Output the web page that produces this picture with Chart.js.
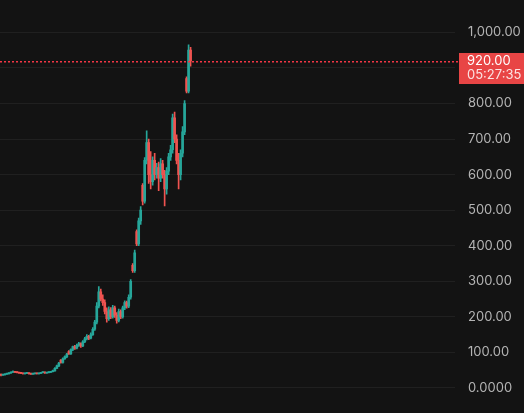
<!DOCTYPE html>
<html>
<head>
<meta charset="utf-8">
<script src="https://cdn.jsdelivr.net/npm/chart.js@4.4.1/dist/chart.umd.min.js"></script>
<style>
  html, body { margin: 0; padding: 0; background: #131313; }
  #wrap { width: 524px; height: 413px; position: relative; }
</style>
</head>
<body>
<div id="wrap"><canvas id="chart"></canvas></div>
<script>
// OHLC candles (oldest first)
const opens = [38,36,37,39,40,42,44,46,44,43,42,41,40,41,42,40,39,40,41,40,41,43,44,42,43,44,46,48,55,62,
  78,72,82,88,102,96,108,116,112,120,125,118,130,138,145,140,150,165,185,230,270,250,240,215,195,220,200,225,205,190,
  215,200,225,240,230,255,345,330,440,405,470,570,525,640,690,600,580,640,600,620,590,630,600,560,610,650,670,760,700,640,
  600,660,720,870,835,950];
const highs = [39,38,40,41,43,45,48,47,45,44,43,42,42,43,43,41,41,42,42,42,44,45,45,44,45,47,50,57,64,72,
  80,85,90,97,105,110,118,120,123,128,127,133,142,150,148,155,170,190,240,285,278,262,248,225,228,226,232,230,212,222,
  220,230,245,244,262,305,350,388,445,478,510,575,648,723,700,665,650,660,632,635,645,640,612,620,660,682,770,776,712,660,
  670,735,808,875,965,958];
const lows = [34,35,36,38,39,41,43,43,42,41,40,39,39,40,39,38,38,39,39,39,40,42,41,41,42,43,45,47,54,60,
  70,70,80,85,94,94,105,108,110,117,114,116,127,135,136,138,148,162,180,225,245,232,208,185,190,195,196,198,182,186,
  195,196,220,224,226,250,325,325,400,400,460,515,520,630,575,560,570,585,590,555,580,590,512,545,600,640,660,690,630,560,
  585,650,712,830,830,905];
const closes = [36,37,39,40,42,44,46,44,43,42,41,40,41,42,40,39,40,41,40,41,43,44,42,43,44,46,48,55,62,70,
  72,82,88,95,96,108,116,112,120,125,118,130,138,145,140,150,165,185,230,270,250,240,215,195,220,200,225,205,190,215,
  200,225,240,230,255,300,330,380,405,470,500,525,640,690,600,580,640,600,620,590,630,600,560,610,650,670,760,700,640,600,
  660,720,800,835,950,920];

const SLOTS = 228;            // candle slots across the plot, most still empty
const yTicks = [0, 100, 200, 300, 400, 500, 600, 700, 800, 900, 1000];
const lastPrice = 920;
const countdown = '05:27:35';

const UP = '#26a69a';
const DOWN = '#ef5350';

const slotLabels = Array.from({ length: SLOTS }, (_, i) => String(i));
const candleColors = opens.map((o, i) => closes[i] >= o ? UP : DOWN);

const priceLine = {
  id: 'priceLine',
  afterDraw(chart) {
    const { ctx, chartArea, scales } = chart;
    const y = Math.round(scales.y.getPixelForValue(lastPrice));
    ctx.save();
    // dotted last-price line
    ctx.fillStyle = '#f23645';
    for (let x = 0; x < chartArea.right + 3; x += 4) {
      ctx.fillRect(x, y, 2, 1.5);
    }

    // last price tag on the axis
    ctx.fillStyle = '#e84545';
    ctx.fillRect(459, y - 8, 524 - 459, 31);
    ctx.font = '13px Inter';
    ctx.textAlign = 'left';
    ctx.textBaseline = 'middle';
    ctx.fillStyle = '#ffffff';
    ctx.fillText(lastPrice.toFixed(2), 467, y + 0.5);
    ctx.fillStyle = 'rgba(255,255,255,0.85)';
    ctx.fillText(countdown, 467, y + 14.5);
    ctx.restore();
  }
};

new Chart(document.getElementById('chart'), {
  type: 'bar',
  data: {
    labels: slotLabels,
    datasets: [
      {
        label: 'wick',
        data: lows.map((l, i) => [l, highs[i]]),
        backgroundColor: candleColors,
        barThickness: 1,
        grouped: false,
        order: 2
      },
      {
        label: 'body',
        data: opens.map((o, i) => [o, closes[i]]),
        backgroundColor: candleColors,
        barThickness: 2,
        minBarLength: 1,
        grouped: false,
        order: 1
      }
    ]
  },
  options: {
    responsive: true,
    maintainAspectRatio: false,
    animation: false,
    layout: { padding: 0 },
    plugins: {
      legend: { display: false },
      tooltip: { enabled: false }
    },
    scales: {
      x: {
        display: false,
        grid: { display: false }
      },
      y: {
        position: 'right',
        min: -12,
        max: 1032.6,
        afterBuildTicks: axis => { axis.ticks = yTicks.map(v => ({ value: v })); },
        afterFit: axis => { axis.width = 69; },
        border: { display: false },
        grid: {
          color: 'rgba(255,255,255,0.06)',
          drawTicks: false
        },
        ticks: {
          padding: 13,
          color: '#b4b4b4',
          font: { family: 'Inter', size: 13 },
          callback: v => v === 0 ? '0.0000'
            : v.toLocaleString('en-US', { minimumFractionDigits: 2, maximumFractionDigits: 2 })
        }
      }
    }
  },
  plugins: [priceLine]
});
</script>
</body>
</html>
